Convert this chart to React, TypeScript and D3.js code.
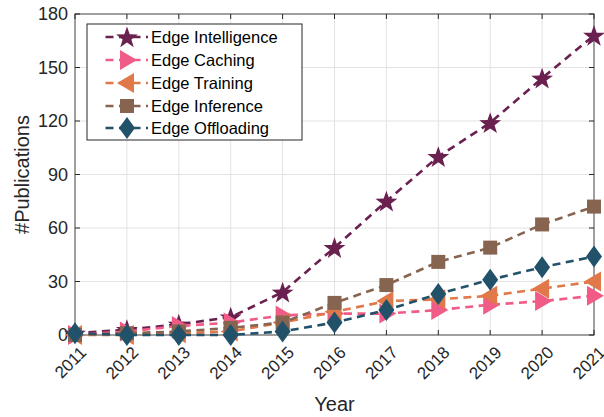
import React from "react";
import * as d3 from "d3";

const years = [2011, 2012, 2013, 2014, 2015, 2016, 2017, 2018, 2019, 2020, 2021];
const intelligence = [1, 3, 6, 10, 24, 49, 75, 100, 119, 144, 168];
const caching = [0, 2, 5, 7, 11, 12, 12, 14, 17, 19, 22];
const training = [0, 0, 1, 2, 7, 13, 19, 20, 22, 26, 30];
const inference = [0, 1, 2, 4, 7, 18, 28, 41, 49, 62, 72];
const offloading = [1, 0, 0, 0, 2, 7, 14, 23, 31, 38, 44];
const yTicks = [0, 30, 60, 90, 120, 150, 180];

const seriesNames = ["Edge Intelligence", "Edge Caching", "Edge Training", "Edge Inference", "Edge Offloading"];
const seriesValues = [intelligence, caching, training, inference, offloading];
const seriesColors = ["#6a2150", "#f05c87", "#e0784a", "#866450", "#22526a"];
const seriesMarkers = ["star", "right", "left", "square", "diamond"];

const W = 604, H = 417;
const M = { left: 75, right: 594, top: 14, bottom: 335 };
const FONT = "'Liberation Sans', Arial, Helvetica, sans-serif";
const TXT = "#262626";

function markerPath(type: string): string {
  if (type === "star") {
    const R = 11.5, r = 4.6;
    const pts: [number, number][] = [];
    for (let i = 0; i < 10; i++) {
      const a = -Math.PI / 2 + (i * Math.PI) / 5;
      const rr = i % 2 === 0 ? R : r;
      pts.push([rr * Math.cos(a), rr * Math.sin(a) + 1]);
    }
    return "M" + pts.map((p) => p.join(",")).join("L") + "Z";
  }
  if (type === "right") return "M-7,-10L10,0L-7,10Z";
  if (type === "left") return "M7,-10L-10,0L7,10Z";
  if (type === "square") return "M-7,-7L7,-7L7,7L-7,7Z";
  return "M0,-11L8,0L0,11L-8,0Z";
}

export default function App() {
  const x = d3.scaleLinear().domain([2011, 2021]).range([M.left, M.right]);
  const y = d3.scaleLinear().domain([0, 180]).range([M.bottom, M.top]);
  const line = d3
    .line<number>()
    .x((_, i) => x(years[i]))
    .y((d) => y(d));

  const legX = 87, legY = 24, legW = 215, legH = 116;
  const rowY = [37, 60, 83, 106, 128];

  return (
    <div style={{ position: "absolute", left: 0, top: 0 }}>
      <svg width={W} height={H} style={{ display: "block", background: "#fff" }} fontFamily={FONT}>
        {/* grid */}
        {years.map((yr) => (
          <line key={"gx" + yr} x1={x(yr)} x2={x(yr)} y1={M.top} y2={M.bottom} stroke="#e3e3e3" strokeWidth={1} />
        ))}
        {yTicks.map((t) => (
          <line key={"gy" + t} x1={M.left} x2={M.right} y1={y(t)} y2={y(t)} stroke="#e3e3e3" strokeWidth={1} />
        ))}
        {/* box */}
        <rect x={M.left} y={M.top} width={M.right - M.left} height={M.bottom - M.top} fill="none" stroke={TXT} strokeWidth={1} opacity={0.8} />
        {/* ticks */}
        {years.map((yr) => (
          <g key={"tx" + yr}>
            <line x1={x(yr)} x2={x(yr)} y1={M.bottom} y2={M.bottom - 5} stroke={TXT} />
            <line x1={x(yr)} x2={x(yr)} y1={M.top} y2={M.top + 5} stroke={TXT} />
            <text
              transform={`translate(${x(yr) + 4},${M.bottom + 10}) rotate(-45)`}
              textAnchor="end"
              dominantBaseline="hanging"
              fontSize={17}
              fill={TXT}
            >
              {yr}
            </text>
          </g>
        ))}
        {yTicks.map((t) => (
          <g key={"ty" + t}>
            <line x1={M.left} x2={M.left + 5} y1={y(t)} y2={y(t)} stroke={TXT} />
            <line x1={M.right} x2={M.right - 5} y1={y(t)} y2={y(t)} stroke={TXT} />
            <text x={M.left - 7} y={y(t)} dy="0.35em" textAnchor="end" fontSize={18} fill={TXT}>
              {t}
            </text>
          </g>
        ))}
        {/* axis labels */}
        <text x={(M.left + M.right) / 2} y={411} textAnchor="middle" fontSize={20} fill={TXT}>
          Year
        </text>
        <text transform={`translate(29,${(M.top + M.bottom) / 2}) rotate(-90)`} textAnchor="middle" fontSize={20} fill={TXT}>
          #Publications
        </text>
        {/* series */}
        {seriesValues.map((vals, si) => (
          <g key={"s" + si}>
            <path d={line(vals) || ""} fill="none" stroke={seriesColors[si]} strokeWidth={2.6} strokeDasharray="8,5.5" />
            {vals.map((v, i) => (
              <path
                key={i}
                d={markerPath(seriesMarkers[si])}
                transform={`translate(${x(years[i])},${y(v)})`}
                fill={seriesColors[si]}
              />
            ))}
          </g>
        ))}
        {/* legend */}
        <rect x={legX} y={legY} width={legW} height={legH} fill="#fff" stroke={TXT} strokeWidth={1} opacity={1} />
        {seriesNames.map((name, si) => (
          <g key={"l" + si}>
            <line x1={105} x2={148} y1={rowY[si]} y2={rowY[si]} stroke={seriesColors[si]} strokeWidth={2.6} strokeDasharray="8,5.5" strokeDashoffset={-0.5} />
            <path d={markerPath(seriesMarkers[si])} transform={`translate(127,${rowY[si]})`} fill={seriesColors[si]} />
            <text x={151} y={rowY[si]} dy="0.35em" fontSize={16.5} fill="#000">
              {name}
            </text>
          </g>
        ))}
      </svg>
    </div>
  );
}
